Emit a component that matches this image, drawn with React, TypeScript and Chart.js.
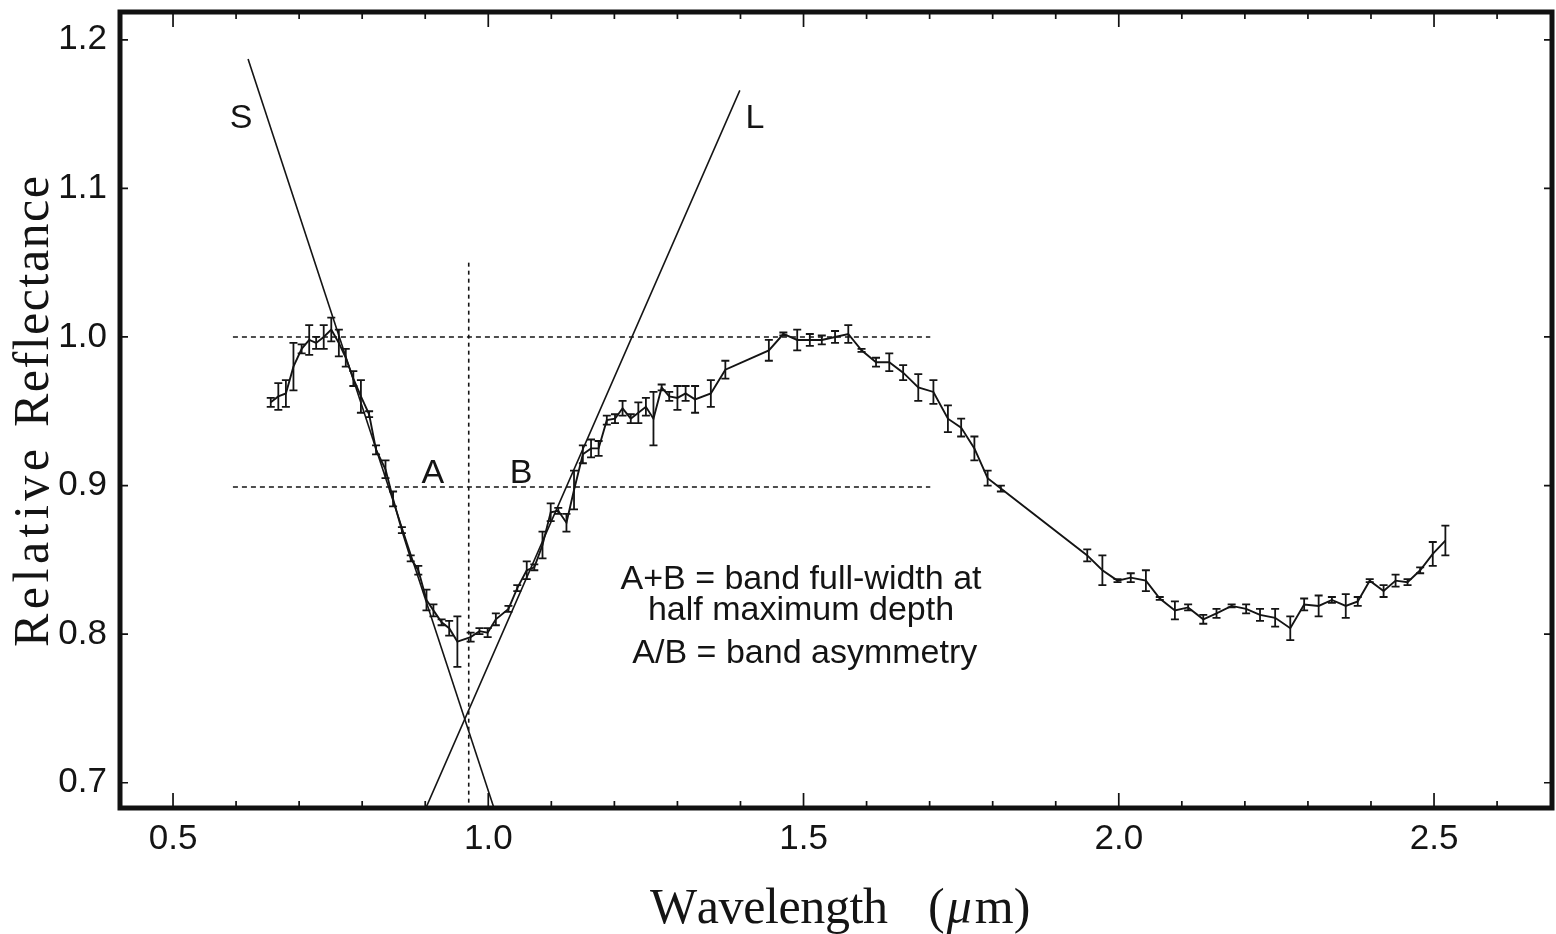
import React, { useEffect, useRef } from "react";
import { Chart, registerables } from "chart.js";

Chart.register(...registerables);

// ---- data ----
const WAVELENGTH = [
  0.655, 0.667, 0.679, 0.691, 0.704, 0.716, 0.727, 0.739, 0.751, 0.763,
  0.774, 0.786, 0.798, 0.811, 0.822, 0.837, 0.849, 0.863, 0.877, 0.889,
  0.902, 0.913, 0.926, 0.938, 0.951, 0.972, 0.986, 0.999, 1.012, 1.032,
  1.046, 1.061, 1.073, 1.086, 1.099, 1.111, 1.124, 1.136, 1.150, 1.163,
  1.175, 1.188, 1.201, 1.213, 1.226, 1.238, 1.250, 1.262, 1.275, 1.287,
  1.300, 1.313, 1.328, 1.353, 1.376, 1.445, 1.468, 1.490, 1.510, 1.529,
  1.550, 1.571, 1.592, 1.615, 1.636, 1.658, 1.682, 1.706, 1.729, 1.750,
  1.771, 1.792, 1.813, 1.950, 1.974, 1.998, 2.019, 2.043, 2.065, 2.089,
  2.110, 2.134, 2.155, 2.179, 2.202, 2.224, 2.248, 2.272, 2.294, 2.317,
  2.338, 2.360, 2.379, 2.398, 2.420, 2.439, 2.458, 2.478, 2.498, 2.518,
];
const REFLECTANCE = [
  0.956, 0.960, 0.962, 0.980, 0.992, 0.998, 0.996, 1.000, 1.005, 0.996,
  0.986, 0.972, 0.960, 0.948, 0.924, 0.911, 0.891, 0.870, 0.851, 0.843,
  0.823, 0.816, 0.808, 0.804, 0.795, 0.798, 0.802, 0.801, 0.810, 0.817,
  0.831, 0.843, 0.845, 0.860, 0.882, 0.883, 0.875, 0.897, 0.921, 0.925,
  0.925, 0.944, 0.945, 0.952, 0.945, 0.949, 0.953, 0.945, 0.966, 0.960,
  0.959, 0.962, 0.958, 0.962, 0.978, 0.991, 1.002, 0.998, 0.998, 0.998,
  1.000, 1.002, 0.991, 0.983, 0.983, 0.976, 0.966, 0.963, 0.945, 0.939,
  0.925, 0.905, 0.898, 0.853, 0.843, 0.836, 0.838, 0.836, 0.824, 0.816,
  0.818, 0.810, 0.814, 0.819, 0.817, 0.813, 0.811, 0.804, 0.820, 0.819,
  0.823, 0.819, 0.822, 0.836, 0.829, 0.836, 0.835, 0.843, 0.854, 0.863,
];
const ERROR = [
  0.003, 0.009, 0.009, 0.016, 0.003, 0.010, 0.004, 0.008, 0.008, 0.009,
  0.006, 0.005, 0.011, 0.002, 0.003, 0.006, 0.005, 0.002, 0.002, 0.003,
  0.007, 0.004, 0.002, 0.005, 0.017, 0.003, 0.002, 0.003, 0.004, 0.002,
  0.002, 0.006, 0.002, 0.009, 0.006, 0.002, 0.006, 0.013, 0.006, 0.006,
  0.005, 0.003, 0.003, 0.005, 0.003, 0.007, 0.006, 0.018, 0.002, 0.003,
  0.008, 0.005, 0.009, 0.009, 0.006, 0.007, 0.001, 0.007, 0.004, 0.003,
  0.004, 0.006, 0.001, 0.003, 0.006, 0.005, 0.009, 0.008, 0.009, 0.006,
  0.008, 0.005, 0.002, 0.004, 0.010, 0.001, 0.003, 0.007, 0.001, 0.006,
  0.002, 0.003, 0.003, 0.001, 0.003, 0.004, 0.006, 0.008, 0.004, 0.007,
  0.002, 0.008, 0.003, 0.001, 0.004, 0.004, 0.002, 0.002, 0.008, 0.010,
];

// construction lines
const LINE_S_X = [0.619, 1.009];
const LINE_S_Y = [1.187, 0.683];
const LINE_L_X = [0.901, 1.399];
const LINE_L_Y = [0.683, 1.166];
const REF_H_X = [0.595, 1.701];
const REF_TOP_Y = 1.0;
const REF_HALF_Y = 0.899;
const CENTER_X = 0.969;
const CENTER_Y = [1.05, 0.683];

// axes
const X_MIN = 0.4159;
const X_MAX = 2.6871;
const Y_MIN = 0.683;
const Y_MAX = 1.2187;
const X_TICKS = [0.5, 1.0, 1.5, 2.0, 2.5];
const X_MINOR_TICKS = [0.5, 0.6, 0.7, 0.8, 0.9, 1.0, 1.1, 1.2, 1.3, 1.4, 1.5, 1.6, 1.7, 1.8, 1.9, 2.0, 2.1, 2.2, 2.3, 2.4, 2.5, 2.6];
const Y_TICKS = [0.7, 0.8, 0.9, 1.0, 1.1, 1.2];

// annotations (data coordinates)
const LETTER_LABELS = ["S", "L", "A", "B"];
const LETTER_X = [0.608, 1.423, 0.912, 1.052];
const LETTER_Y = [1.149, 1.149, 0.91, 0.91];
const NOTE_LINES = ["A+B = band full-width at", "half maximum depth", "A/B = band asymmetry"];
const NOTE_X = [1.496, 1.496, 1.502];
const NOTE_Y = [0.8385, 0.8176, 0.7887];

const X_TITLE_WORD = "Wavelength";
const Y_TITLE_WORDS = ["Relative", "Reflectance"];

const INK = "#141414";
const SANS = '"Liberation Sans", Arial, sans-serif';
const SERIF = '"Liberation Serif", "Times New Roman", serif';

function drawSpaced(ctx: CanvasRenderingContext2D, text: string, x0: number, y0: number, width: number) {
  const chars = Array.from(text);
  const widths = chars.map((c) => ctx.measureText(c).width);
  const natural = widths.reduce((a, b) => a + b, 0);
  const gap = chars.length > 1 ? (width - natural) / (chars.length - 1) : 0;
  let cx = x0;
  chars.forEach((c, i) => {
    ctx.fillText(c, cx, y0);
    cx += widths[i] + gap;
  });
}

const framePlugin = {
  id: "frame",
  afterDatasetsDraw(chart: any) {
    const { ctx, chartArea, scales } = chart;
    const { left, right, top, bottom } = chartArea;
    const xs = scales.x;
    const ys = scales.y;
    ctx.save();

    // error bars
    ctx.save();
    ctx.beginPath();
    ctx.rect(left, top, right - left, bottom - top);
    ctx.clip();
    ctx.strokeStyle = INK;
    ctx.lineWidth = 1.8;
    ctx.beginPath();
    WAVELENGTH.forEach((w, i) => {
      const px = xs.getPixelForValue(w);
      const y1 = ys.getPixelForValue(REFLECTANCE[i] + ERROR[i]);
      const y2 = ys.getPixelForValue(REFLECTANCE[i] - ERROR[i]);
      ctx.moveTo(px, y1);
      ctx.lineTo(px, y2);
      ctx.moveTo(px - 4, y1);
      ctx.lineTo(px + 4, y1);
      ctx.moveTo(px - 4, y2);
      ctx.lineTo(px + 4, y2);
    });
    ctx.stroke();
    ctx.restore();

    // frame
    ctx.strokeStyle = "#111";
    ctx.lineWidth = 5;
    ctx.strokeRect(left, top, right - left, bottom - top);

    // ticks (inward, all sides)
    ctx.lineWidth = 1.7;
    ctx.beginPath();
    X_MINOR_TICKS.forEach((v) => {
      const px = xs.getPixelForValue(v);
      const major = X_TICKS.some((t) => Math.abs(t - v) < 1e-6);
      const len = major ? 15 : 7;
      ctx.moveTo(px, bottom);
      ctx.lineTo(px, bottom - len);
      ctx.moveTo(px, top);
      ctx.lineTo(px, top + len);
    });
    Y_TICKS.forEach((v) => {
      const py = ys.getPixelForValue(v);
      ctx.moveTo(left, py);
      ctx.lineTo(left + 8, py);
      ctx.moveTo(right, py);
      ctx.lineTo(right - 8, py);
    });
    ctx.stroke();

    // letter labels
    ctx.fillStyle = INK;
    ctx.textAlign = "center";
    ctx.textBaseline = "alphabetic";
    ctx.font = `34px ${SANS}`;
    LETTER_LABELS.forEach((t, i) => {
      ctx.fillText(t, xs.getPixelForValue(LETTER_X[i]), ys.getPixelForValue(LETTER_Y[i]) + 0.358 * 34);
    });
    ctx.font = `34px ${SANS}`;
    NOTE_LINES.forEach((t, i) => {
      ctx.fillText(t, xs.getPixelForValue(NOTE_X[i]), ys.getPixelForValue(NOTE_Y[i]) + 0.358 * 34);
    });

    // axis titles
    ctx.textAlign = "left";
    ctx.font = `50px ${SERIF}`;
    const cx = (left + right) / 2;
    const base = bottom + 115;
    drawSpaced(ctx, X_TITLE_WORD, cx - 186, base, 238);
    let ux = cx + 92;
    ctx.fillText("(", ux, base);
    ux += ctx.measureText("(").width + 2;
    ctx.font = `italic 50px ${SERIF}`;
    ctx.fillText("\u03bc", ux, base);
    ux += ctx.measureText("\u03bc").width + 3;
    ctx.font = `50px ${SERIF}`;
    ctx.fillText("m)", ux, base);

    ctx.save();
    const cy = (top + bottom) / 2 + 2;
    ctx.translate(48, cy);
    ctx.rotate(-Math.PI / 2);
    drawSpaced(ctx, Y_TITLE_WORDS[0], -235, 0, 198);
    drawSpaced(ctx, Y_TITLE_WORDS[1], -235 + 220, 0, 251);
    ctx.restore();

    ctx.restore();
  },
};

export default function App() {
  const ref = useRef<HTMLCanvasElement>(null);

  useEffect(() => {
    const canvas = ref.current;
    if (!canvas) return;
    const pts = (xs: number[], ys: number[]) => xs.map((x, i) => ({ x, y: ys[i] }));
    const thin = { showLine: true, pointRadius: 0, borderColor: INK, borderWidth: 1.6, fill: false };
    const chart = new Chart(canvas, {
      type: "scatter",
      data: {
        datasets: [
          { label: "spectrum", data: pts(WAVELENGTH, REFLECTANCE), ...thin, borderWidth: 1.9 },
          { label: "S", data: pts(LINE_S_X, LINE_S_Y), ...thin },
          { label: "L", data: pts(LINE_L_X, LINE_L_Y), ...thin },
          { label: "continuum", data: pts(REF_H_X, [REF_TOP_Y, REF_TOP_Y]), ...thin, borderDash: [5, 4] },
          { label: "half depth", data: pts(REF_H_X, [REF_HALF_Y, REF_HALF_Y]), ...thin, borderDash: [5, 4] },
          { label: "band center", data: pts([CENTER_X, CENTER_X], CENTER_Y), ...thin, borderDash: [4, 4] },
        ] as any,
      },
      options: {
        responsive: false,
        animation: false,
        events: [],
        layout: { padding: { top: 12, right: 4, left: 0, bottom: 0 } },
        plugins: { legend: { display: false }, tooltip: { enabled: false } },
        scales: {
          x: {
            type: "linear",
            min: X_MIN,
            max: X_MAX,
            afterFit: (s: any) => {
              s.height = 126;
              s.paddingLeft = 0;
              s.paddingRight = 0;
            },
            afterBuildTicks: (s: any) => { s.ticks = X_TICKS.map((v) => ({ value: v })); },
            ticks: {
              callback: (v: any) => Number(v).toFixed(1),
              font: { family: SANS, size: 35 },
              color: INK,
              padding: 10,
              maxRotation: 0,
              autoSkip: false,
            },
            grid: { display: false, drawTicks: false },
            border: { display: false },
          },
          y: {
            type: "linear",
            min: Y_MIN,
            max: Y_MAX,
            afterFit: (s: any) => {
              s.width = 120;
              s.paddingTop = 0;
              s.paddingBottom = 0;
            },
            afterBuildTicks: (s: any) => { s.ticks = Y_TICKS.map((v) => ({ value: v })); },
            ticks: {
              callback: (v: any) => Number(v).toFixed(1),
              font: { family: SANS, size: 35 },
              color: INK,
              padding: 13,
              autoSkip: false,
            },
            grid: { display: false, drawTicks: false },
            border: { display: false },
          },
        },
      } as any,
      plugins: [framePlugin],
    });
    return () => chart.destroy();
  }, []);

  return (
    <div style={{ position: "absolute", left: 0, top: 0, width: 1556, height: 934, background: "#fff" }}>
      <canvas ref={ref} width={1556} height={934} style={{ display: "block" }} />
    </div>
  );
}
